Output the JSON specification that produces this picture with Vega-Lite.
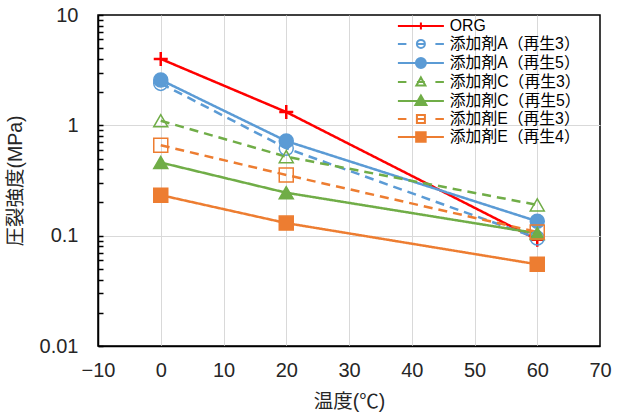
{
  "$schema": "https://vega.github.io/schema/vega-lite/v6.json",
  "width": 502,
  "height": 331,
  "autosize": "none",
  "padding": {"left": 98, "top": 15, "right": 22, "bottom": 71},
  "config": {
    "font": "Liberation Sans, 'Noto Sans CJK JP'",
    "view": {"stroke": "#000", "strokeWidth": 1.5},
    "axis": {"labelFont": "Liberation Sans", "labelFontSize": 20, "labelColor": "#262626", "titleFont": "Liberation Sans, 'Noto Sans CJK JP'", "titleFontSize": 19.5, "titleFontWeight": "normal", "titleColor": "#262626", "domainColor": "#000", "domainWidth": 1.5, "gridColor": "#d9d9d9", "gridWidth": 1, "tickColor": "#000", "tickWidth": 1.5, "labelFlush": false, "labelOverlap": false},
    "legend": {"labelFont": "Liberation Sans, 'Noto Sans CJK JP'", "labelFontSize": 15.8, "labelColor": "#000", "labelLimit": 400, "symbolSize": 100, "symbolStrokeWidth": 2, "labelOffset": 21, "rowPadding": 1, "padding": 0}
  },
  "data": {"values": [
    {"s": "ORG", "t": 0, "v": 4.0}, {"s": "ORG", "t": 20, "v": 1.32}, {"s": "ORG", "t": 60, "v": 0.092},
    {"s": "添加剤A（再生3）", "t": 0, "v": 2.4}, {"s": "添加剤A（再生3）", "t": 20, "v": 0.62}, {"s": "添加剤A（再生3）", "t": 60, "v": 0.095},
    {"s": "添加剤A（再生5）", "t": 0, "v": 2.58}, {"s": "添加剤A（再生5）", "t": 20, "v": 0.72}, {"s": "添加剤A（再生5）", "t": 60, "v": 0.135},
    {"s": "添加剤C（再生3）", "t": 0, "v": 1.1}, {"s": "添加剤C（再生3）", "t": 20, "v": 0.52}, {"s": "添加剤C（再生3）", "t": 60, "v": 0.19},
    {"s": "添加剤C（再生5）", "t": 0, "v": 0.46}, {"s": "添加剤C（再生5）", "t": 20, "v": 0.245}, {"s": "添加剤C（再生5）", "t": 60, "v": 0.105},
    {"s": "添加剤E（再生3）", "t": 0, "v": 0.66}, {"s": "添加剤E（再生3）", "t": 20, "v": 0.355}, {"s": "添加剤E（再生3）", "t": 60, "v": 0.108},
    {"s": "添加剤E（再生4）", "t": 0, "v": 0.233}, {"s": "添加剤E（再生4）", "t": 20, "v": 0.13}, {"s": "添加剤E（再生4）", "t": 60, "v": 0.055}
  ]},
  "encoding": {
    "x": {"field": "t", "type": "quantitative", "title": "温度(℃)",
      "scale": {"domain": [-10, 70], "nice": false, "zero": false},
      "axis": {"values": [-10, 0, 10, 20, 30, 40, 50, 60, 70], "ticks": false, "labelPadding": 14, "titlePadding": 12,
        "gridOpacity": {"condition": {"test": "datum.value == -10 || datum.value == 70", "value": 0}, "value": 1}}},
    "y": {"field": "v", "type": "quantitative", "title": "圧裂強度(MPa)",
      "scale": {"type": "log", "domain": [0.01, 10], "nice": false},
      "axis": {"values": [0.01,0.02,0.03,0.04,0.05,0.06,0.07,0.08,0.09,0.1,0.2,0.3,0.4,0.5,0.6,0.7,0.8,0.9,1,2,3,4,5,6,7,8,9,10],
        "labelExpr": "datum.value == 0.01 ? '0.01' : datum.value == 0.1 ? '0.1' : datum.value == 1 ? '1' : datum.value == 10 ? '10' : ''",
        "tickSize": -5,
        "labelPadding": 25, "titlePadding": 14,
        "gridOpacity": {"condition": {"test": "datum.value == 0.1 || datum.value == 1", "value": 1}, "value": 0}}}
  },
  "layer": [
    {
      "mark": {"type": "line", "strokeWidth": 2.5},
      "encoding": {
        "color": {"field": "s", "type": "nominal", "legend": null,
          "scale": {"domain": ["ORG", "添加剤A（再生3）", "添加剤A（再生5）", "添加剤C（再生3）", "添加剤C（再生5）", "添加剤E（再生3）", "添加剤E（再生4）"],
            "range": ["#FF0000", "#5B9BD5", "#5B9BD5", "#70AD47", "#70AD47", "#ED7D31", "#ED7D31"]}},
        "strokeDash": {"field": "s", "type": "nominal", "legend": null,
          "scale": {"domain": ["ORG", "添加剤A（再生3）", "添加剤A（再生5）", "添加剤C（再生3）", "添加剤C（再生5）", "添加剤E（再生3）", "添加剤E（再生4）"],
            "range": [[1, 0], [9, 6], [1, 0], [9, 6], [1, 0], [9, 6], [1, 0]]}}
      }
    },
    {
      "mark": {"type": "point", "filled": false, "opacity": 1, "size": 196},
      "encoding": {
        "color": {"field": "s", "type": "nominal", "legend": null,
          "scale": {"domain": ["ORG", "添加剤A（再生3）", "添加剤A（再生5）", "添加剤C（再生3）", "添加剤C（再生5）", "添加剤E（再生3）", "添加剤E（再生4）"],
            "range": ["#FF0000", "#5B9BD5", "#5B9BD5", "#70AD47", "#70AD47", "#ED7D31", "#ED7D31"]}},
        "fill": {"field": "s", "type": "nominal", "legend": null,
          "scale": {"domain": ["ORG", "添加剤A（再生3）", "添加剤A（再生5）", "添加剤C（再生3）", "添加剤C（再生5）", "添加剤E（再生3）", "添加剤E（再生4）"],
            "range": ["transparent", "transparent", "#5B9BD5", "transparent", "#70AD47", "transparent", "#ED7D31"]}},
        "shape": {"field": "s", "type": "nominal", "legend": null,
          "scale": {"domain": ["ORG", "添加剤A（再生3）", "添加剤A（再生5）", "添加剤C（再生3）", "添加剤C（再生5）", "添加剤E（再生3）", "添加剤E（再生4）"],
            "range": ["M-1,0H1M0,-1V1", "circle", "circle", "triangle-up", "triangle-up", "square", "square"]}},
        "strokeWidth": {"condition": {"test": "datum.s == 'ORG'", "value": 2.5}, "value": 1.5}
      }
    },
    {
      "transform": [{"filter": "false"}],
      "mark": {"type": "point", "filled": false, "opacity": 1},
      "encoding": {
        "color": {"field": "s", "type": "nominal",
          "scale": {"domain": ["ORG", "添加剤A（再生3）", "添加剤A（再生5）", "添加剤C（再生3）", "添加剤C（再生5）", "添加剤E（再生3）", "添加剤E（再生4）"],
            "range": ["#FF0000", "#5B9BD5", "#5B9BD5", "#70AD47", "#70AD47", "#ED7D31", "#ED7D31"]},
          "legend": {"title": null, "orient": "none", "legendX": 315, "legendY": 3}},
        "fill": {"field": "s", "type": "nominal",
          "scale": {"domain": ["ORG", "添加剤A（再生3）", "添加剤A（再生5）", "添加剤C（再生3）", "添加剤C（再生5）", "添加剤E（再生3）", "添加剤E（再生4）"],
            "range": ["transparent", "transparent", "#5B9BD5", "transparent", "#70AD47", "transparent", "#ED7D31"]},
          "legend": {"title": null, "orient": "none", "legendX": 315, "legendY": 3}},
        "shape": {"field": "s", "type": "nominal",
          "scale": {"domain": ["ORG", "添加剤A（再生3）", "添加剤A（再生5）", "添加剤C（再生3）", "添加剤C（再生5）", "添加剤E（再生3）", "添加剤E（再生4）"],
            "range": [
              "M-4.6,0H4.6M0,-0.7V0.7",
              "M-4.6,0H-2.9M-0.8,0H0.8M2.9,0H4.6M0.8,0A0.8,0.8,0,1,1,-0.8,0A0.8,0.8,0,1,1,0.8,0Z",
              "M-4.6,0H4.6M1,0A1,1,0,1,1,-1,0A1,1,0,1,1,1,0Z",
              "M-4.6,0H-2.9M-0.8,0H0.8M2.9,0H4.6M0,-0.9L0.9,0.7L-0.9,0.7Z",
              "M-4.6,0H4.6M0,-1.1L1.1,0.8L-1.1,0.8Z",
              "M-4.6,0H-2.9M-0.8,0H0.8M2.9,0H4.6M-0.8,-0.8H0.8V0.8H-0.8Z",
              "M-4.6,0H4.6M-0.95,-0.95H0.95V0.95H-0.95Z"
            ]},
          "legend": {"title": null, "orient": "none", "legendX": 315, "legendY": 3}}
      }
    }
  ],
  "resolve": {"scale": {"shape": "independent", "fill": "independent", "color": "independent"}}
}
